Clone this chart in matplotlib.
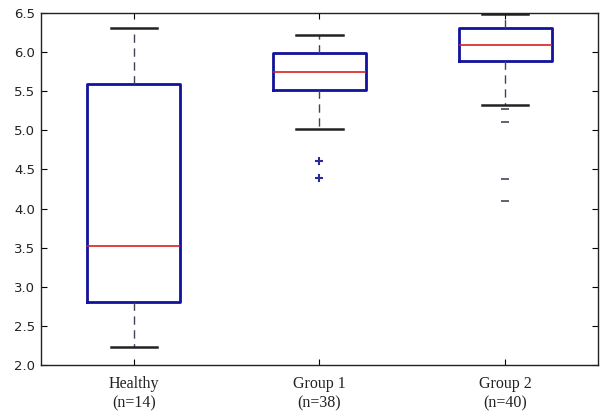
import matplotlib
matplotlib.use("Agg")
import matplotlib.pyplot as plt

categories = ["Healthy\n(n=14)", "Group 1\n(n=38)", "Group 2\n(n=40)"]
medians = [3.52, 5.74, 6.09]
q1s = [2.80, 5.51, 5.89]
q3s = [5.59, 5.99, 6.31]
whis_lo = [2.23, 5.02, 5.32]
whis_hi = [6.31, 6.22, 6.48]
fliers = [[], [4.61, 4.39], [5.27, 5.10, 4.38, 4.10]]
yticks = [2.0, 2.5, 3.0, 3.5, 4.0, 4.5, 5.0, 5.5, 6.0, 6.5]

fig = plt.figure(figsize=(6.01, 4.16), dpi=100)
ax = fig.add_axes([0.068, 0.1226, 0.927, 0.8464])

stats = []
for i in range(3):
    stats.append(dict(med=medians[i], q1=q1s[i], q3=q3s[i],
                      whislo=whis_lo[i], whishi=whis_hi[i],
                      fliers=[], label=categories[i]))

ax.bxp(stats, positions=[1, 2, 3], widths=0.5, showfliers=False,
       boxprops=dict(color="#12129c", linewidth=2.0),
       medianprops=dict(color="#d82020", linewidth=1.2),
       whiskerprops=dict(color="#404060", linewidth=1.0, linestyle=(0, (6, 4))),
       capprops=dict(color="#222222", linewidth=1.8))

# outliers
ax.plot([2] * len(fliers[1]), fliers[1], linestyle="none", marker="+",
        markersize=6, markeredgewidth=1.5, color="#2a2a9a")
ax.plot([3] * len(fliers[2]), fliers[2], linestyle="none", marker="_",
        markersize=6, markeredgewidth=1.3, color="#555566")

ax.set_xlim(0.5, 3.5)
ax.set_ylim(2.0, 6.5)
ax.set_yticks(yticks)
ax.set_yticklabels([f"{t:.1f}" for t in yticks], fontsize=9.5,
                   color="#222222", family="DejaVu Sans")
ax.set_xticks([1, 2, 3])
ax.set_xticklabels(categories, fontsize=11.5, family="Liberation Serif",
                   color="#222222", linespacing=1.25)
ax.tick_params(axis="both", direction="in", length=4, width=0.8,
               top=True, right=True)
ax.tick_params(axis="x", pad=8)
ax.tick_params(axis="y", pad=4)
for s in ax.spines.values():
    s.set_linewidth(1.0)
    s.set_color("#222222")

fig.savefig("out.png", dpi=100)
